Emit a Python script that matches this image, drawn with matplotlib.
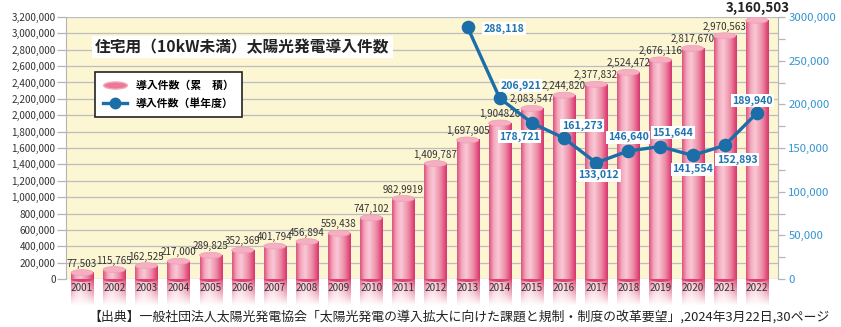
import numpy as np
import matplotlib
matplotlib.use("Agg")
import matplotlib.pyplot as plt
from matplotlib.colors import LinearSegmentedColormap
from matplotlib.patches import Ellipse
from matplotlib.lines import Line2D
from matplotlib.path import Path
from matplotlib.transforms import Affine2D
from matplotlib.ticker import MultipleLocator

plt.rcParams['font.family'] = ['Noto Sans CJK JP', 'DejaVu Sans']

# 住宅用太陽光発電 導入件数
years = [str(y) for y in range(2001, 2023)]
cumulative = [77503, 115765, 162525, 217000, 289825, 352369, 401794, 456894,
              559438, 747102, 982991, 1409787, 1697905, 1904826, 2083547,
              2244820, 2377832, 2524472, 2676116, 2817670, 2970563, 3160503]
cumulative_labels = ['77,503', '115,765', '162,525', '217,000', '289,825',
                     '352,369', '401,794', '456,894', '559,438', '747,102',
                     '982,9919', '1,409,787', '1,697,905', '1,904826',
                     '2,083,547', '2,244,820', '2,377,832', '2,524,472',
                     '2,676,116', '2,817,670', '2,970,563', '3,160,503']
annual_years = years[12:]
annual = [288118, 206921, 178721, 161273, 133012, 146640, 151644, 141554,
          152893, 189940]
# label offsets (points) for the single-year values
annual_offsets = [(26, -1), (15, 9), (-9, -10), (13, 9), (2, -9),
                  (0, 10), (9, 10), (0, -10), (9, -10), (-3, 9)]

left_ticks = list(range(0, 3200001, 200000))
left_tick_labels = ['{:,}'.format(t) for t in left_ticks]
right_ticks = [0, 50000, 100000, 150000, 200000, 250000, 300000]
right_tick_labels = ['0', '50,000', '100,000', '150,000', '200,000',
                     '250,000', '3000,000']

W, H = 841, 327
fig = plt.figure(figsize=(W / 100, H / 100), dpi=100)
ax = fig.add_axes([66 / W, 1 - 279 / H, (778 - 66) / W, 262 / H])
ax.set_facecolor('#fdf6d3')

ymax = 3200000
px = ymax / 262.0          # data units per pixel on the left axis
xs = np.arange(len(years))
bw = 0.685

# horizontal shading of a cylinder
cyl = LinearSegmentedColormap.from_list('cyl', [
    (0.0, '#de5280'), (0.2, '#f3a9bd'), (0.4, '#f9c9d5'),
    (0.7, '#ee8fa9'), (1.0, '#d8356c')])
shade = cyl(np.linspace(0, 1, 80))[:, :3]
body = shade[np.newaxis, :, :]

refl_rows = 30
refl = np.zeros((refl_rows, 80, 4))
refl[:, :, :3] = shade[np.newaxis, :, :]
refl[:, :, 3] = np.linspace(0.9, 0.0, refl_rows)[:, np.newaxis]

eh = 6 * px
for x, v in zip(xs, cumulative):
    ax.imshow(refl, extent=(x - bw / 2, x + bw / 2, -27 * px, 0),
              aspect='auto', origin='upper', interpolation='bilinear',
              zorder=0.4, clip_on=False)
    ax.add_patch(Ellipse((x, 0), bw, eh, facecolor='#dc4276',
                         edgecolor='none', zorder=1.9, clip_on=False))
    ax.imshow(body, extent=(x - bw / 2, x + bw / 2, 0, v), aspect='auto',
              interpolation='bilinear', zorder=2)
    ax.add_patch(Ellipse((x, v), bw, eh, facecolor='#f4b0c2',
                         edgecolor='#f29cb3', linewidth=0.5, zorder=2.1))

for x, v, lab in zip(xs[:-1], cumulative[:-1], cumulative_labels[:-1]):
    ax.annotate(lab, (x, v), xytext=(0, 6.5), textcoords='offset points',
                ha='center', va='center', fontsize=7.1, color='#333333',
                zorder=4)
ax.annotate(cumulative_labels[-1], (xs[-1], cumulative[-1]),
            xytext=(1, 8.5), textcoords='offset points', ha='center',
            va='center', fontsize=9.6, fontweight='bold', color='#222222',
            annotation_clip=False, zorder=4)

ax.set_xlim(-0.5, 21.66)
ax.set_ylim(0, ymax)
ax.set_xticks(xs)
ax.set_xticklabels(years)
ax.set_yticks(left_ticks)
ax.set_yticklabels(left_tick_labels)
ax.tick_params(axis='x', length=0, pad=3, labelsize=7.2, labelcolor='#333333')
ax.tick_params(axis='y', length=6.5, width=0.9, color='#b5b5b5', pad=1,
               labelsize=7.2, labelcolor='#333333')
ax.set_axisbelow(True)
ax.grid(axis='y', color='#bdbdbd', linewidth=0.9)
for s in ['top', 'bottom', 'right']:
    ax.spines[s].set_visible(False)
ax.spines['left'].set_color('#b5b5b5')

ax.text(0.041, 0.885, '住宅用（10kW未満）太陽光発電導入件数',
        transform=ax.transAxes, ha='left', va='center', fontsize=11.3,
        fontweight='bold', color='#222222', zorder=5,
        bbox=dict(facecolor='white', edgecolor='none', pad=2))

# single-year installations on the secondary axis
ax2 = ax.twinx()
ax2.set_zorder(ax.get_zorder() + 1)
ax2.patch.set_visible(False)
ax2.plot(xs[12:], annual, color='#1b6ea8', linewidth=2.4, marker='o',
         markersize=8.8, zorder=3)
for x, v, off in zip(xs[12:], annual, annual_offsets):
    ax2.annotate('{:,}'.format(v), (x, v), xytext=off,
                 textcoords='offset points', ha='center', va='center',
                 fontsize=7.6, fontweight='bold', color='#1f73ae', zorder=4,
                 bbox=dict(facecolor='white', edgecolor='none', pad=1))
ax2.set_ylim(0, 300000)
ax2.set_yticks(right_ticks)
ax2.set_yticklabels(right_tick_labels)
ax2.yaxis.set_minor_locator(MultipleLocator(25000))
ax2.tick_params(axis='y', which='both', length=5, width=0.9,
                color='#b5b5b5', pad=2.5, labelsize=8.2, labelcolor='#3593cf')
for s in ['top', 'bottom', 'left']:
    ax2.spines[s].set_visible(False)
ax2.spines['right'].set_color('#b5b5b5')

# legend
disk = Path.unit_circle().transformed(Affine2D().scale(1, 0.3))
handles = [
    Line2D([], [], linestyle='none', marker=disk, markersize=17,
           markerfacecolor='#ec7797', markeredgecolor='#f3a8bc'),
    Line2D([], [], color='#1b6ea8', linewidth=2.4, marker='o', markersize=7.5),
]
leg = ax.legend(handles, ['導入件数（累　積）', '導入件数（単年度）'],
                loc='upper left', bbox_to_anchor=(0.041, 0.79),
                borderaxespad=0, fancybox=False, framealpha=1,
                edgecolor='#222222', prop={'size': 7.8, 'weight': 'bold'},
                handlelength=2.2, handletextpad=0.8, labelspacing=0.7,
                borderpad=0.75)
leg.get_frame().set_linewidth(1.2)
leg.set_zorder(6)

fig.text(88 / W, 1 - 317 / H,
         '【出典】一般社団法人太陽光発電協会「太陽光発電の導入拡大に向けた課題と規制・制度の改革要望」,2024年3月22日,30ページ',
         ha='left', va='center', fontsize=9.3, color='#222222')

fig.savefig('out.png', dpi=100, facecolor='white')
